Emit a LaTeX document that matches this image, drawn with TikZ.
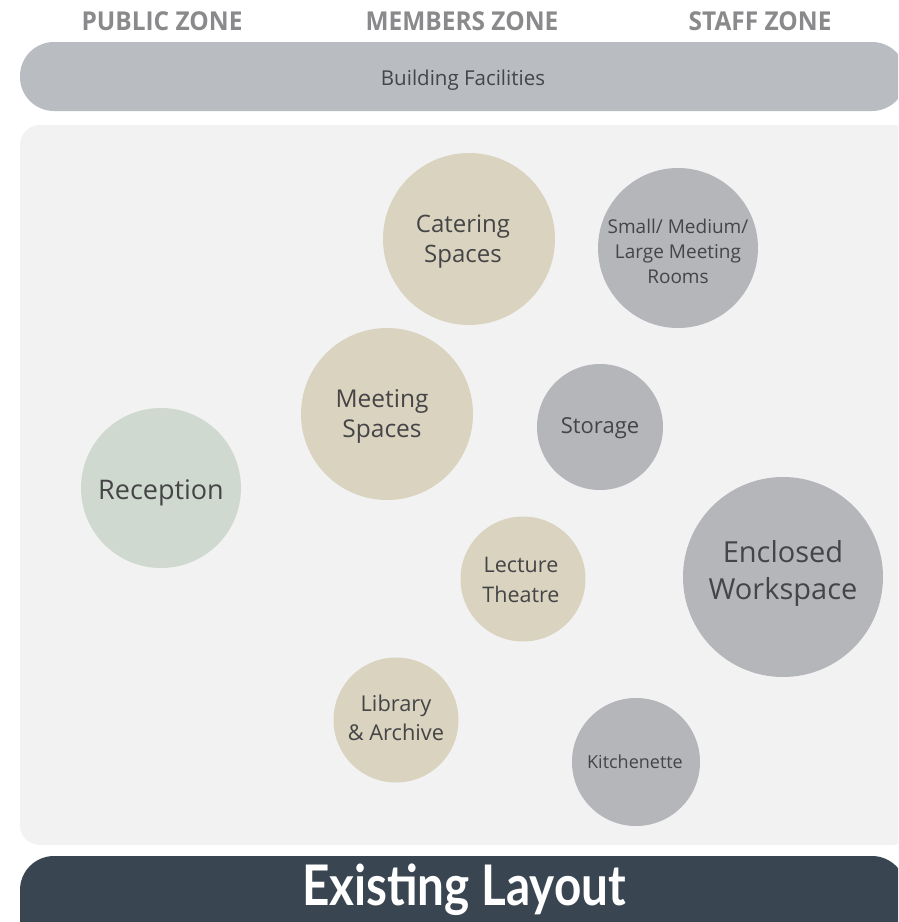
\documentclass[tikz,border=0pt]{standalone}
\usepackage{fontspec}
\setmainfont{Open Sans}
\newfontfamily\hdrfont[FakeStretch=0.94]{Open Sans}
\newfontfamily\bigfont[FakeStretch=0.85]{Lato}
\definecolor{tanc}{HTML}{D9D3BF}
\definecolor{grayc}{HTML}{B4B6BA}
\definecolor{greenc}{HTML}{CFD9CF}
\definecolor{panelc}{HTML}{F2F2F2}
\definecolor{barc}{HTML}{B9BDC1}
\definecolor{darkc}{HTML}{394652}
\definecolor{txtc}{HTML}{454547}
\definecolor{hdrc}{HTML}{8A8A8C}
\tikzset{
  zone/.style={circle, inner sep=0pt},
  ztext/.style={align=center, text=txtc, inner sep=0pt},
  hdr/.style={font=\hdrfont\bfseries\fontsize{26}{30}\selectfont, text=hdrc},
}
\begin{document}
\begin{tikzpicture}[x=1pt,y=-1pt]
\useasboundingbox (0,0) rectangle (898,922);
\clip (0,0) rectangle (898,922);
\fill[white] (0,0) rectangle (898,922);
% headers
\node[hdr] (pub) at (162,21) {PUBLIC ZONE};
\node[hdr] (mem) at (462,21) {MEMBERS ZONE};
\node[hdr] (stf) at (760,21) {STAFF ZONE};
% top bar
\fill[barc, rounded corners=34] (20,42) rectangle (906,111);
\node[text=txtc, font=\fontsize{20.5}{24}\selectfont] (bf) at (463,80) {Building Facilities};
% panel
\fill[panelc, rounded corners=20] (20,125) rectangle (912,845);
% bottom bar
\fill[darkc, rounded corners=34] (20,856) rectangle (906,960);
\node[text=white, font=\bigfont\bfseries\fontsize{56}{60}\selectfont] (el) at (464,890) {Existing Layout};
% circles
\node[zone, fill=tanc, minimum size=172] (cat) at (469,239) {};
\node[zone, fill=grayc, minimum size=160] (sml) at (678,248) {};
\node[zone, fill=tanc, minimum size=172] (mtg) at (387,414) {};
\node[zone, fill=grayc, minimum size=126] (sto) at (600,427) {};
\node[zone, fill=greenc, minimum size=160] (rec) at (161,488) {};
\node[zone, fill=grayc, minimum size=200] (enc) at (783,577) {};
\node[zone, fill=tanc, minimum size=125] (lec) at (523,579) {};
\node[zone, fill=tanc, minimum size=125] (lib) at (396,720) {};
\node[zone, fill=grayc, minimum size=128] (kit) at (636,762) {};
% texts
\node[ztext, font=\fontsize{24}{30}\selectfont] (catt) at ([shift={(-6,3)}]cat.center) {Catering\\Spaces};
\node[ztext, font=\fontsize{19}{25}\selectfont] (smlt) at ([shift={(0,3)}]sml.center) {Small/ Medium/\\Large Meeting\\Rooms};
\node[ztext, font=\fontsize{24.5}{30}\selectfont] (mtgt) at ([shift={(-5,2)}]mtg.center) {Meeting\\Spaces};
\node[ztext, font=\fontsize{22}{26}\selectfont] (stot) at ([shift={(0,1)}]sto.center) {Storage};
\node[ztext, font=\fontsize{27}{30}\selectfont] (rect) at ([shift={(0,5)}]rec.center) {Reception};
\node[ztext, font=\fontsize{29}{37}\selectfont] (enct) at ([shift={(0,-4)}]enc.center) {Enclosed\\Workspace};
\node[ztext, font=\fontsize{21.5}{30}\selectfont] (lect) at ([shift={(-2,1)}]lec.center) {Lecture\\Theatre};
\node[ztext, font=\fontsize{21.8}{29}\selectfont] (libt) at ([shift={(0,-2)}]lib.center) {Library\\\& Archive};
\node[ztext, font=\fontsize{18}{20}\selectfont] (kitt) at ([shift={(-1,0)}]kit.center) {Kitchenette};
\end{tikzpicture}
\end{document}
